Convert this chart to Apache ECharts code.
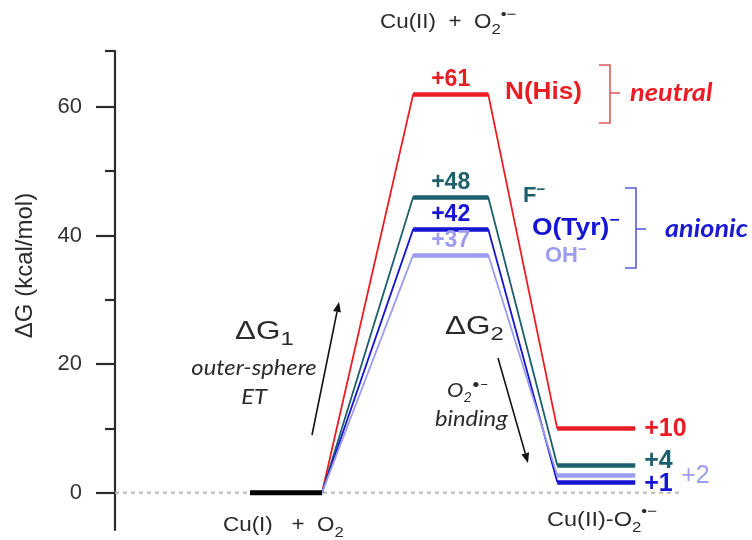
<!DOCTYPE html>
<html>
<head>
<meta charset="utf-8">
<script src="https://cdn.jsdelivr.net/npm/echarts@6/dist/echarts.min.js"></script>
<style>
  html, body { margin: 0; padding: 0; background: #fff; }
  #chart { width: 752px; height: 540px; }
</style>
</head>
<body>
<div id="chart"></div>
<script>
// reaction coordinate of each stage
var startX = [22.5, 34.5];
var peakX = [49.7, 62.2];
var productX = [73.7, 86.7];
var zeroLineEnd = 94.5;

var ligands = ['N(His)', 'F⁻', 'O(Tyr)⁻', 'OH⁻'];
var colors = ['#ec1c24', '#1d5f6c', '#1515d3', '#9c9cf0'];
var peakValues = [62, 46, 41, 37];
var peakLabels = ['+61', '+48', '+42', '+37'];
var productValues = [10, 4.3, 1.7, 2.7];
var productLabels = ['+10', '+4', '+1', '+2'];

var yTicks = [0, 20, 40, 60];
var yMinorTicks = [10, 30, 50, 68.7];
var yMin = -5.8, yMax = 68.7;

var SANS = '"Liberation Sans", Arial, sans-serif';
var HUM = 'Lato, "Open Sans", sans-serif';
var INK = '#2b2b2b';

var chart = echarts.init(document.getElementById('chart'));

var series = [{
  type: 'line', silent: true, symbol: 'none', z: 1,
  data: [[0, 0], [zeroLineEnd, 0]],
  lineStyle: { color: '#b8b8b8', width: 2, type: [4, 4] }
}, {
  type: 'line', silent: true, symbol: 'none', z: 5,
  data: [[startX[0], 0], [startX[1], 0]],
  lineStyle: { color: '#000', width: 5 }
}];

ligands.forEach(function (name, i) {
  series.push({
    name: name, type: 'line', silent: true, symbol: 'none', z: 3,
    data: [[startX[1], 0], [peakX[0], peakValues[i]], [peakX[1], peakValues[i]],
           [productX[0], productValues[i]], [productX[1], productValues[i]]],
    lineStyle: { color: colors[i], width: 1.8 },
    markLine: {
      silent: true, symbol: ['none', 'none'],
      lineStyle: { color: colors[i], width: 4.5, type: 'solid' },
      label: { show: false },
      data: [
        [{ coord: [peakX[0], peakValues[i]],
           label: { show: true, position: 'insideMiddleTop', distance: 3,
                    formatter: peakLabels[i], color: colors[i],
                    fontFamily: SANS, fontSize: 23, fontWeight: 'bold' } },
         { coord: [peakX[1], peakValues[i]] }],
        [{ coord: [productX[0], productValues[i]] },
         { coord: [productX[1], productValues[i]] }]
      ]
    }
  });
});

// end-of-level labels for the bound products; nudged so +4 / +1 / +2 do not collide
var prodOffset = [[0, 1], [0, -4], [0, 2], [37, 1]];
series.push({
  type: 'scatter', silent: true, symbolSize: 0, z: 6,
  itemStyle: { opacity: 1 },
  data: productLabels.map(function (lab, i) {
    return {
      value: [productX[1], productValues[i]],
      label: {
        show: true, position: 'right', distance: 9, offset: prodOffset[i], opacity: 1,
        formatter: lab, color: colors[i], fontFamily: SANS, fontSize: 25,
        fontWeight: i === 3 ? 'normal' : 'bold'
      }
    };
  })
});

function text(x, y, str, style, sx) {
  return { type: 'text', x: x, y: y, z: 10, silent: true, scaleX: sx || 1,
    style: Object.assign({ text: str, fill: INK, fontFamily: SANS, fontSize: 20,
      align: 'left', verticalAlign: 'middle' }, style) };
}
function chem(size, small) {
  return {
    a: { fontSize: size, lineHeight: size + 10, verticalAlign: 'middle' },
    b: { fontSize: small, lineHeight: small, verticalAlign: 'bottom' },
    c: { fontSize: small, lineHeight: small, verticalAlign: 'top' }
  };
}
function arrow(x1, y1, x2, y2) {
  var dx = x2 - x1, dy = y2 - y1, len = Math.sqrt(dx * dx + dy * dy);
  var ux = dx / len, uy = dy / len, bx = x2 - ux * 10, by = y2 - uy * 10;
  return [
    { type: 'line', silent: true, z: 10, shape: { x1: x1, y1: y1, x2: bx, y2: by },
      style: { stroke: '#111', lineWidth: 1.6 } },
    { type: 'polygon', silent: true, z: 10,
      shape: { points: [[x2, y2], [bx - uy * 4, by + ux * 4], [bx + uy * 4, by - ux * 4]] },
      style: { fill: '#111' } }
  ];
}
function bracket(x, y1, y2, ym, color) {
  return [
    { type: 'polyline', silent: true, z: 10,
      shape: { points: [[x - 11, y1], [x, y1], [x, y2], [x - 11, y2]] },
      style: { stroke: color, lineWidth: 1.6, fill: null } },
    { type: 'line', silent: true, z: 10, shape: { x1: x, y1: ym, x2: x + 10, y2: ym },
      style: { stroke: color, lineWidth: 1.6 } }
  ];
}
function supStyle(big, small, extra) {
  return {
    a: Object.assign({ fontSize: big, lineHeight: big + 6 }, extra),
    b: Object.assign({ fontSize: small, lineHeight: small, verticalAlign: 'bottom' }, extra),
    c: Object.assign({ fontSize: small, lineHeight: small, verticalAlign: 'top' }, extra)
  };
}

var graphics = [
  text(380, 22, '{a|Cu(II)  +  O}{b|2}{c|•−}', { rich: chem(20, 15) }, 1.12),
  text(223, 525, '{a|Cu(I)   +  O}{b|2}', { rich: chem(20, 15) }, 1.12),
  text(547, 520, '{a|Cu(II)-O}{b|2}{c|•−}', { rich: chem(21, 15) }, 1.12),

  text(505, 92, 'N(His)', { fill: colors[0], fontSize: 24, fontWeight: 'bold' }, 1.09),
  text(630, 93, 'neutral', { fill: colors[0], fontFamily: HUM, fontSize: 25, fontWeight: 'bold', fontStyle: 'italic' }, 1.09),
  text(523, 196, '{a|F}{c|−}', { fill: colors[1], rich: supStyle(22, 15, { fontWeight: 'bold' }) }),
  text(532, 228, '{a|O(Tyr)}{c|−}', { fill: colors[2], rich: supStyle(24, 16, { fontWeight: 'bold' }) }, 1.1),
  text(545, 256, '{a|OH}{c|−}', { fill: colors[3], rich: supStyle(22, 15, { fontWeight: 'bold' }) }),
  text(665, 229, 'anionic', { fill: '#1a1ad0', fontFamily: HUM, fontSize: 25, fontWeight: 'bold', fontStyle: 'italic' }, 1.08),

  text(235, 332, '{a|ΔG}{b|1}', { rich: { a: { fontSize: 25, lineHeight: 34 }, b: { fontSize: 19, lineHeight: 19, verticalAlign: 'bottom' } } }, 1.26),
  text(254, 368, 'outer-sphere', { fontFamily: HUM, fontSize: 21, fontStyle: 'italic', align: 'center' }, 1.13),
  text(254, 397, 'ET', { fontFamily: HUM, fontSize: 21, fontStyle: 'italic', align: 'center' }, 1.13),
  text(445, 327, '{a|ΔG}{b|2}', { rich: { a: { fontSize: 25, lineHeight: 34 }, b: { fontSize: 19, lineHeight: 19, verticalAlign: 'bottom' } } }, 1.26),
  text(447, 391, '{a|O}{b|2}{c|•−}', { rich: supStyle(20, 13, { fontFamily: HUM, fontStyle: 'italic' }) }, 1.1),
  text(435, 419, 'binding', { fontFamily: HUM, fontSize: 21, fontStyle: 'italic' }, 1.13)
].concat(
  bracket(610, 65, 123, 93, '#e4585c'),
  bracket(636, 188, 268, 229, '#5b5bdc'),
  arrow(312, 435, 339, 302),
  arrow(498, 358, 528, 463)
);

chart.setOption({
  animation: false,
  grid: { left: 115, right: 37, top: 51, bottom: 10, outerBoundsMode: 'none' },
  xAxis: { type: 'value', min: 0, max: 100, show: false },
  yAxis: [{
    type: 'value', min: yMin, max: yMax,
    name: 'ΔG (kcal/mol)', nameLocation: 'middle', nameGap: 78,
    nameTextStyle: { fontFamily: SANS, fontSize: 24, color: INK, padding: [0, 0, 0, 50] },
    splitLine: { show: false },
    axisLine: { show: true, lineStyle: { color: '#2b2b2b', width: 2.2 } },
    axisTick: { show: true, length: 19, customValues: yTicks, lineStyle: { color: '#2b2b2b', width: 2.2 } },
    axisLabel: { customValues: yTicks, margin: 33, fontFamily: SANS, fontSize: 22, color: '#333' }
  }, {
    type: 'value', min: yMin, max: yMax, position: 'left',
    splitLine: { show: false },
    axisLine: { show: false },
    axisTick: { show: true, length: 10, customValues: yMinorTicks, lineStyle: { color: '#2b2b2b', width: 2.2 } },
    axisLabel: { show: false }
  }],
  series: series,
  graphic: graphics
});
</script>
</body>
</html>
